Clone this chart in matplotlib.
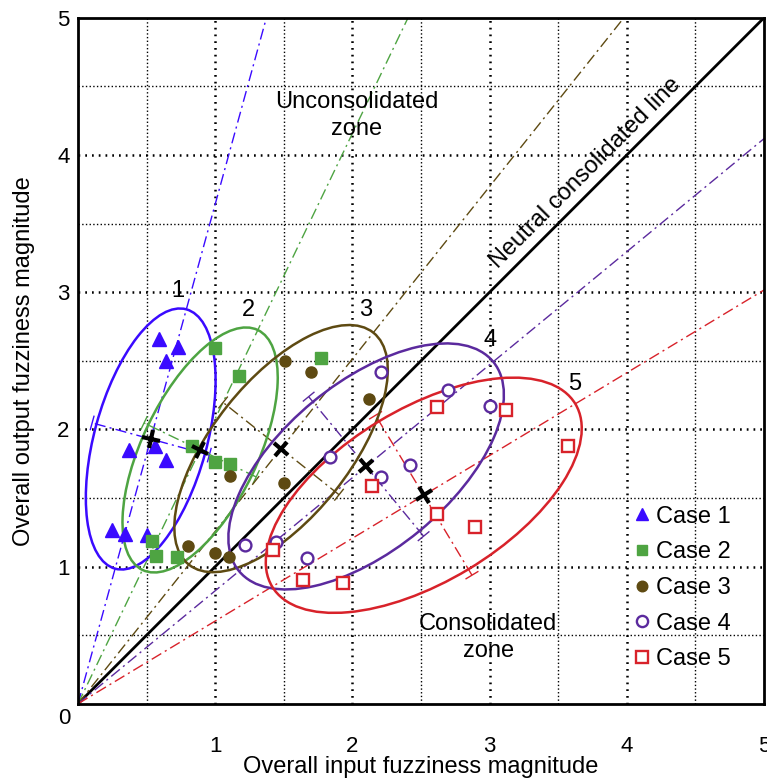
import numpy as np
import matplotlib
matplotlib.use("Agg")
import matplotlib.pyplot as plt
from matplotlib.patches import Ellipse
from matplotlib.markers import MarkerStyle
from matplotlib.transforms import Affine2D

plt.rcParams['font.family'] = ['Liberation Sans', 'DejaVu Sans']

# scatter data
case1_x = [0.59, 0.73, 0.64, 0.37, 0.56, 0.64, 0.25, 0.34, 0.50]
case1_y = [2.66, 2.60, 2.50, 1.85, 1.88, 1.78, 1.27, 1.24, 1.23]
case2_x = [1.00, 1.17, 1.77, 0.83, 1.00, 1.11, 0.54, 0.57, 0.72]
case2_y = [2.59, 2.39, 2.52, 1.88, 1.76, 1.75, 1.19, 1.08, 1.07]
case3_x = [1.51, 1.70, 2.12, 1.11, 1.50, 0.80, 1.00, 1.10]
case3_y = [2.50, 2.42, 2.22, 1.66, 1.61, 1.15, 1.10, 1.07]
case4_x = [2.21, 2.70, 3.00, 1.84, 2.42, 2.21, 1.22, 1.44, 1.67]
case4_y = [2.42, 2.29, 2.17, 1.80, 1.74, 1.65, 1.16, 1.18, 1.06]
case5_x = [2.62, 3.12, 3.57, 2.14, 2.62, 2.89, 1.42, 1.64, 1.93]
case5_y = [2.16, 2.14, 1.88, 1.59, 1.38, 1.29, 1.12, 0.90, 0.88]

# cluster centres (black crosses) and ellipse semi axes
center_x = [0.53, 0.89, 1.48, 2.10, 2.52]
center_y = [1.93, 1.85, 1.86, 1.73, 1.52]
semi_major = [0.98, 0.97, 1.08, 1.20, 1.29]
semi_minor = [0.41, 0.42, 0.50, 0.61, 0.63]

case_labels = ['Case 1', 'Case 2', 'Case 3', 'Case 4', 'Case 5']
cluster_ids = ['1', '2', '3', '4', '5']
id_x = [0.73, 1.24, 2.10, 3.00, 3.62]
id_y = [3.01, 2.87, 2.87, 2.65, 2.33]

colors = ['#3a0aff', '#4ea442', '#5e4a12', '#5b2a9e', '#d8222a']
markers = ['^', 's', 'o', 'o', 's']
filled = [True, True, True, False, False]
xs = [case1_x, case2_x, case3_x, case4_x, case5_x]
ys = [case1_y, case2_y, case3_y, case4_y, case5_y]

FS = 17

fig = plt.figure(figsize=(7.67, 7.80), dpi=100)
ax = fig.add_axes([0.1017, 0.0974, 0.8944, 0.8801])
ax.set_xlim(0, 5)
ax.set_ylim(0, 5)
ax.set_aspect('equal')

# dotted grid, heavy at integers, light at halves
for v in [1, 2, 3, 4]:
    ax.axvline(v, color='black', lw=1.8, ls=(0, (0.7, 2.0)), zorder=1)
    ax.axhline(v, color='black', lw=1.8, ls=(0, (0.7, 2.0)), zorder=1)
for v in [0.5, 1.5, 2.5, 3.5, 4.5]:
    ax.axvline(v, color='black', lw=1.0, ls=':', zorder=1)
    ax.axhline(v, color='black', lw=1.0, ls=':', zorder=1)

# neutral line
ax.plot([0, 5], [0, 5], color='black', lw=2.0, zorder=2)

dashdot = (0, (8, 3, 1.5, 3))
for i in range(5):
    cx, cy = center_x[i], center_y[i]
    theta = np.arctan2(cy, cx)
    ux, uy = np.cos(theta), np.sin(theta)
    nx, ny = -uy, ux
    c = colors[i]
    # major axis ray from the origin
    ax.plot([0, cx * 10], [0, cy * 10], color=c, lw=1.0, ls=dashdot, zorder=2)
    # minor axis with small caps
    L = semi_minor[i] * 1.08
    ax.plot([cx - L * nx, cx + L * nx], [cy - L * ny, cy + L * ny],
            color=c, lw=1.0, ls=dashdot, zorder=2)
    for s in (-1, 1):
        px, py = cx + s * L * nx, cy + s * L * ny
        ax.plot([px - 0.05 * ux, px + 0.05 * ux], [py - 0.05 * uy, py + 0.05 * uy],
                color=c, lw=1.0, zorder=2)
    ell = Ellipse((cx, cy), 2 * semi_major[i], 2 * semi_minor[i],
                  angle=np.degrees(theta), fill=False, edgecolor=c, lw=1.8, zorder=3)
    ax.add_patch(ell)
    ax.text(id_x[i], id_y[i], cluster_ids[i], fontsize=FS, ha='center', va='center', zorder=6)

handles = []
for i in range(5):
    if filled[i]:
        h, = ax.plot(xs[i], ys[i], ls='none', marker=markers[i], ms=9.5 if markers[i] == '^' else 8,
                     color=colors[i], mec=colors[i], zorder=4, label=case_labels[i])
    else:
        h, = ax.plot(xs[i], ys[i], ls='none', marker=markers[i], ms=8.5,
                     mfc='white', mec=colors[i], mew=1.7, zorder=4, label=case_labels[i])
    handles.append(h)

for i in range(5):
    theta = np.degrees(np.arctan2(center_y[i], center_x[i]))
    m = MarkerStyle('+', transform=Affine2D().rotate_deg(theta - 90))
    ax.plot(center_x[i], center_y[i], ls='none', marker=m, ms=13, mew=3.0,
            color='black', zorder=5)

ax.text(3.70, 3.87, 'Neutral consolidated line', fontsize=FS, rotation=45,
        rotation_mode='anchor', ha='center', va='center', zorder=6)
ax.text(2.03, 4.29, 'Unconsolidated\nzone', fontsize=FS, ha='center', va='center',
        linespacing=1.3, zorder=6)
ax.text(2.99, 0.48, 'Consolidated\nzone', fontsize=FS, ha='center', va='center',
        linespacing=1.3, zorder=6)

leg = ax.legend(handles=handles, loc='lower right', bbox_to_anchor=(0.965, 0.035),
                frameon=False, fontsize=FS, handlelength=0.8, handletextpad=0.2,
                labelspacing=0.58, borderaxespad=0, markerscale=0.95)

ax.set_xticks([1, 2, 3, 4, 5])
ax.set_yticks([1, 2, 3, 4, 5])
ax.tick_params(length=0, labelsize=16)
ax.tick_params(axis='x', pad=23)
ax.tick_params(axis='y', pad=6)
ax.text(-0.02, -0.021, '0', transform=ax.transAxes, fontsize=16, ha='center', va='center')

ax.set_xlabel('Overall input fuzziness magnitude', fontsize=FS)
ax.set_ylabel('Overall output fuzziness magnitude', fontsize=FS)
ax.xaxis.set_label_coords(0.5, -0.076)
ax.yaxis.set_label_coords(-0.062, 0.5)

for sp in ax.spines.values():
    sp.set_linewidth(2.0)

fig.savefig('out.png', dpi=100, facecolor='white')
